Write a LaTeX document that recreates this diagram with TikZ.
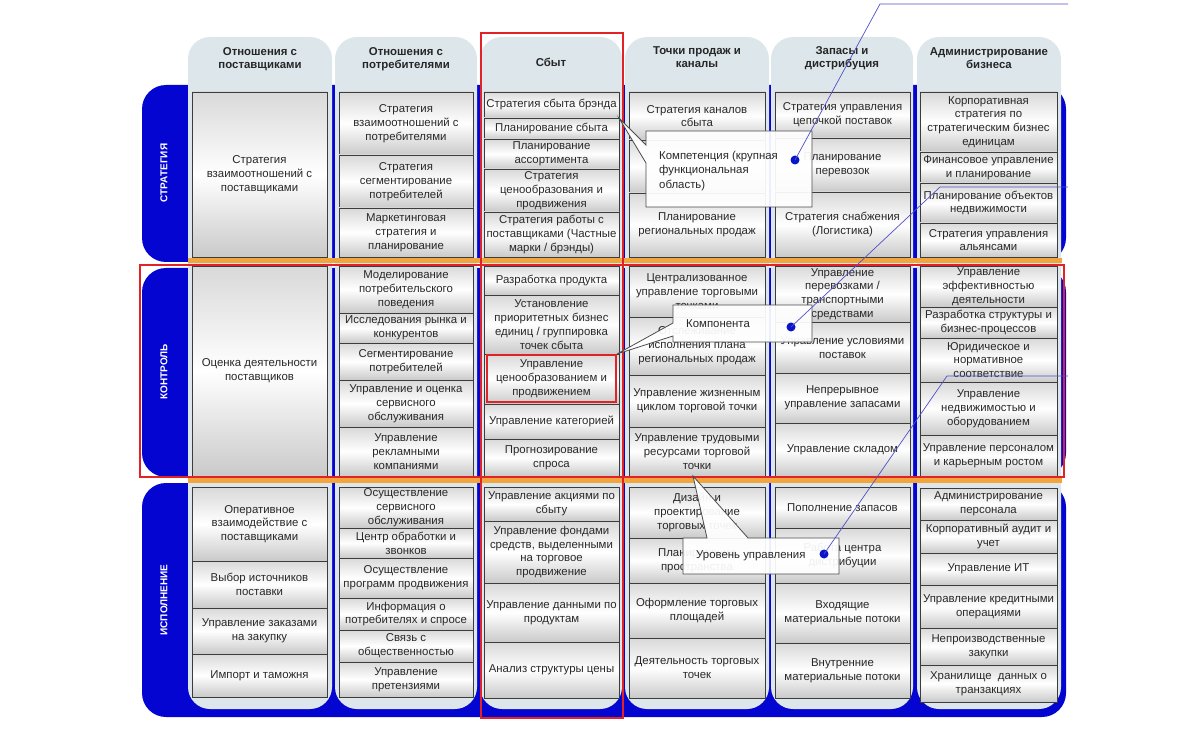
\documentclass[tikz,border=0pt]{standalone}
\usepackage{fontspec}
\setmainfont{Liberation Sans}
\definecolor{bandblue}{RGB}{5,5,210}
\definecolor{panelc}{RGB}{221,231,235}
\definecolor{orangel}{RGB}{242,165,60}
\definecolor{redl}{RGB}{225,35,40}
\definecolor{boxline}{RGB}{60,60,60}
\definecolor{txt}{RGB}{40,40,40}
\definecolor{linkblue}{RGB}{80,80,200}
\definecolor{dotblue}{RGB}{10,20,200}
\tikzset{
 cellbox/.style={draw=boxline, line width=0.9pt, top color=gray!30, bottom color=gray!42, middle color=white, inner sep=0pt, outer sep=0pt},
 celltext/.style={align=center, text=txt, font=\fontsize{11.4}{13.8}\selectfont, inner sep=0pt},
 headtext/.style={align=center, text=black!85, font=\bfseries\fontsize{11.4}{13.5}\selectfont, inner sep=0pt},
 rowlabel/.style={rotate=90, text=white, font=\bfseries\fontsize{10}{12}\selectfont},
 panel/.style={fill=panelc, rounded corners=22pt},
 band/.style={fill=bandblue, rounded corners=24pt},
 redframe/.style={draw=redl, line width=2pt},
 orangebar/.style={fill=orangel},
 callout/.style={draw=black!70, line width=0.8pt, fill=white, fill opacity=0.93},
 calltext/.style={align=left, text=txt, font=\fontsize{11.4}{14.5}\selectfont, inner sep=0pt, anchor=west},
 link/.style={draw=linkblue, line width=0.7pt},
 bluedot/.style={circle, fill=dotblue, inner sep=0pt, minimum size=9pt},
}
\newcommand\bx[6]{\node[cellbox, minimum width={#3pt-#2pt}, minimum height={#5pt-#4pt}] (#1) at ({(#2+#3)/2},{(#4+#5)/2}) {};
 \node[celltext] at (#1.center) {#6};}
\begin{document}
\begin{tikzpicture}[x=1pt,y=-1pt]
\useasboundingbox (0,0) rectangle (1200,730);
% row bands
\fill[band] (142,85) rectangle (1066,262);
\fill[band] (142,268) rectangle (1066,477);
\fill[band] (142,483) rectangle (1066,717);
\node[rowlabel] (r1) at (164,173) {СТРАТЕГИЯ};
\node[rowlabel] (r2) at (164,372) {КОНТРОЛЬ};
\node[rowlabel] (r3) at (164,600) {ИСПОЛНЕНИЕ};
% column panels
\fill[panel] (188,37) rectangle (332,709);
\fill[panel] (335,37) rectangle (477,709);
\fill[panel] (480,37) rectangle (622,709);
\fill[panel] (625,37) rectangle (769,709);
\fill[panel] (771,37) rectangle (913,709);
\fill[panel] (917,37) rectangle (1061,709);
% headers
\node[headtext] (h1) at (260,59) {Отношения с\\поставщиками};
\node[headtext] (h2) at (406,59) {Отношения с\\потребителями};
\node[headtext] (h3) at (551,62) {Сбыт};
\node[headtext] (h4) at (697,57) {Точки продаж и\\каналы};
\node[headtext] (h5) at (842,58) {Запасы и\\дистрибуция};
\node[headtext] (h6) at (989,58) {Администрирование\\бизнеса};
% column 1
\bx{c1a}{192}{327}{92}{257}{Стратегия\\взаимоотношений с\\поставщиками}
\bx{c1b}{192}{327}{266}{476}{Оценка деятельности\\поставщиков}
\bx{c1c}{192}{327}{487}{561}{Оперативное\\взаимодействие с\\поставщиками}
\bx{c1d}{192}{327}{561}{608}{Выбор источников\\поставки}
\bx{c1e}{192}{327}{608}{654}{Управление заказами\\на закупку}
\bx{c1f}{192}{327}{654}{697}{Импорт и таможня}
% column 2
\bx{c2a}{339}{473}{92}{155}{Стратегия\\взаимоотношений с\\потребителями}
\bx{c2b}{339}{473}{155}{208}{Стратегия\\сегментирование\\потребителей}
\bx{c2c}{339}{473}{208}{257}{Маркетинговая\\стратегия и\\планирование}
\bx{c2d}{339}{473}{266}{313}{Моделирование\\потребительского\\поведения}
\bx{c2e}{339}{473}{313}{343}{Исследования рынка и\\конкурентов}
\bx{c2f}{339}{473}{343}{380}{Сегментирование\\потребителей}
\bx{c2g}{339}{473}{380}{427}{Управление и оценка\\сервисного\\обслуживания}
\bx{c2h}{339}{473}{427}{476}{Управление\\рекламными\\компаниями}
\bx{c2i}{339}{473}{487}{528}{Осуществление\\сервисного\\обслуживания}
\bx{c2j}{339}{473}{528}{558}{Центр обработки и\\звонков}
\bx{c2k}{339}{473}{558}{598}{Осуществление\\программ продвижения}
\bx{c2l}{339}{473}{598}{630}{Информация о\\потребителях и спросе}
\bx{c2m}{339}{473}{630}{662}{Связь с\\общественностью}
\bx{c2n}{339}{473}{662}{697}{Управление\\претензиями}
% column 3
\bx{c3a}{484}{619}{92}{118}{Стратегия сбыта брэнда}
\bx{c3b}{484}{619}{118}{139}{Планирование сбыта}
\bx{c3c}{484}{619}{139}{169}{Планирование\\ассортимента}
\bx{c3d}{484}{619}{169}{212}{Стратегия\\ценообразования и\\продвижения}
\bx{c3e}{484}{619}{212}{257}{Стратегия работы с\\поставщиками (Частные\\марки / брэнды)}
\bx{c3f}{484}{619}{266}{295}{Разработка продукта}
\bx{c3g}{484}{619}{295}{354}{Установление\\приоритетных бизнес\\единиц / группировка\\точек сбыта}
\bx{c3h}{484}{619}{354}{404}{Управление\\ценообразованием и\\продвижением}
\bx{c3i}{484}{619}{404}{439}{Управление категорией}
\bx{c3j}{484}{619}{439}{476}{Прогнозирование\\спроса}
\bx{c3k}{484}{619}{487}{521}{Управление акциями по\\сбыту}
\bx{c3l}{484}{619}{521}{583}{Управление фондами\\средств, выделенными\\на торговое\\продвижение}
\bx{c3m}{484}{619}{583}{642}{Управление данными по\\продуктам}
\bx{c3n}{484}{619}{642}{698}{Анализ структуры цены}
% column 4
\bx{c4a}{629}{765}{92}{140}{Стратегия каналов\\сбыта}
\bx{c4b}{629}{765}{140}{193}{}
\bx{c4c}{629}{765}{193}{257}{Планирование\\региональных продаж}
\bx{c4d}{629}{765}{266}{317}{Централизованное\\управление торговыми\\точками}
\bx{c4e}{629}{765}{317}{375}{Отслеживание\\исполнения плана\\региональных продаж}
\bx{c4f}{629}{765}{375}{427}{Управление жизненным\\циклом торговой точки}
\bx{c4g}{629}{765}{427}{476}{Управление трудовыми\\ресурсами торговой\\точки}
\bx{c4h}{629}{765}{487}{538}{Дизайн и\\проектирование\\торговых точек}
\bx{c4i}{629}{765}{538}{583}{Планирование\\пространства}
\bx{c4j}{629}{765}{583}{638}{Оформление торговых\\площадей}
\bx{c4k}{629}{765}{638}{698}{Деятельность торговых\\точек}
% column 5
\bx{c5a}{775}{910}{92}{138}{Стратегия управления\\цепочкой поставок}
\bx{c5b}{775}{910}{138}{192}{Планирование\\перевозок}
\bx{c5c}{775}{910}{192}{257}{Стратегия снабжения\\(Логистика)}
\bx{c5d}{775}{910}{266}{322}{Управление\\перевозками /\\транспортными\\средствами}
\bx{c5e}{775}{910}{322}{373}{Управление условиями\\поставок}
\bx{c5f}{775}{910}{373}{423}{Непрерывное\\управление запасами}
\bx{c5g}{775}{910}{423}{476}{Управление складом}
\bx{c5h}{775}{910}{487}{528}{Пополнение запасов}
\bx{c5i}{775}{910}{528}{583}{Работа центра\\дистрибуции}
\bx{c5j}{775}{910}{583}{643}{Входящие\\материальные потоки}
\bx{c5k}{775}{910}{643}{698}{Внутренние\\материальные потоки}
% column 6
\bx{c6a}{920}{1057}{92}{152}{Корпоративная\\стратегия по\\стратегическим бизнес\\единицам}
\bx{c6b}{920}{1057}{152}{183}{Финансовое управление\\и планирование}
\bx{c6c}{920}{1057}{183}{223}{Планирование объектов\\недвижимости}
\bx{c6d}{920}{1057}{223}{257}{Стратегия управления\\альянсами}
\bx{c6e}{920}{1057}{266}{307}{Управление\\эффективностью\\деятельности}
\bx{c6f}{920}{1057}{307}{338}{Разработка структуры и\\бизнес-процессов}
\bx{c6g}{920}{1057}{338}{382}{Юридическое и\\нормативное\\соответствие}
\bx{c6h}{920}{1057}{382}{435}{Управление\\недвижимостью и\\оборудованием}
\bx{c6i}{920}{1057}{435}{476}{Управление персоналом\\и карьерным ростом}
\bx{c6j}{920}{1057}{488}{520}{Администрирование\\персонала}
\bx{c6k}{920}{1057}{520}{553}{Корпоративный аудит и\\учет}
\bx{c6l}{920}{1057}{553}{585}{Управление ИТ}
\bx{c6m}{920}{1057}{585}{628}{Управление кредитными\\операциями}
\bx{c6n}{920}{1057}{628}{665}{Непроизводственные\\закупки}
\bx{c6o}{920}{1057}{665}{702}{Хранилище~ данных о\\транзакциях}
% orange bars
\fill[orangebar] (188,258) rectangle (1062,263);
\fill[orangebar] (188,478) rectangle (1062,483);
% red frames
\draw[redframe] (140,265) rectangle (1064,477);
\draw[redframe] (481,33) rectangle (623,718);
\node[redframe, minimum width=129pt, minimum height=47pt, inner sep=0pt] (hl) at (551.5,378.5) {};
% callouts
\coordinate (t3) at (693,476);
\path[callout] (646,131) -- (812,131) -- (812,207) -- (646,207) -- (646,163) -- (c3b.north east) -- (646,145) -- cycle;
\node[calltext] (k1) at (659,171) {Компетенция (крупная\\функциональная\\область)};
\path[callout] (673,305) -- (812,305) -- (812,342) -- (673,342) -- (673,336) -- (hl.north east) -- (673,323) -- cycle;
\node[calltext] (k2) at (686,324) {Компонента};
\path[callout] (683,538) -- (707,538) -- (t3) -- (748,538) -- (839,538) -- (839,574) -- (683,574) -- cycle;
\node[calltext] (k3) at (696,556) {Уровень управления};
% leader lines
\node[bluedot] (d1) at (795,160) {};
\node[bluedot] (d2) at (791,327) {};
\node[bluedot] (d3) at (824,554) {};
\coordinate (e1) at (880,4);   \coordinate (f1) at (1068,4);
\coordinate (e2) at (940,187); \coordinate (f2) at (1068,187);
\coordinate (e3) at (947,376); \coordinate (f3) at (1068,376);
\draw[link] (d1.center) -- (e1) -- (f1);
\draw[link] (d2.center) -- (e2) -- (f2);
\draw[link] (d3.center) -- (e3) -- (f3);
\end{tikzpicture}
\end{document}
